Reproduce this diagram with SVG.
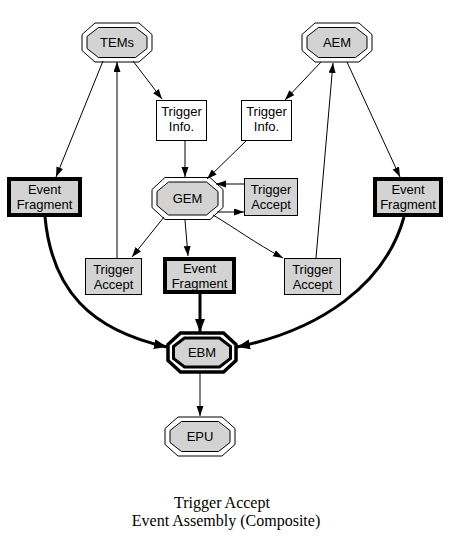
<svg xmlns="http://www.w3.org/2000/svg" width="452" height="547" viewBox="0 0 452 547">
<style>
.o{fill:none;stroke:#000;stroke-width:1}
.i{fill:#d3d3d3;stroke:#000;stroke-width:1}
.ot{fill:none;stroke:#000;stroke-width:3.5}
.it{fill:#d3d3d3;stroke:#000;stroke-width:3}
.bx{fill:#fff;stroke:#000;stroke-width:1}
.bg{fill:#d3d3d3;stroke:#000;stroke-width:1}
.bt{fill:#d3d3d3;stroke:#000;stroke-width:4}
text{font-family:"Liberation Sans",Arial,sans-serif;font-size:13px;text-anchor:middle;fill:#000}
.title{font-family:"Liberation Serif","Times New Roman",serif;font-size:16px}
.e{fill:none;stroke:#000;stroke-width:1}
.et{fill:none;stroke:#000;stroke-width:3}
</style>
<defs>
<marker id="a" markerUnits="userSpaceOnUse" markerWidth="11" markerHeight="8" refX="10" refY="3.5" orient="auto"><path d="M0,0 L10,3.5 L0,7 z" fill="#000"/></marker>
<marker id="at" markerUnits="userSpaceOnUse" markerWidth="14" markerHeight="11" refX="13" refY="5" orient="auto"><path d="M0,0 L13,5 L0,10 z" fill="#000"/></marker>
<polygon id="oo" points="-35,-8 -22,-19.5 22,-19.5 35,-8 35,8 22,19.5 -22,19.5 -35,8"/>
<polygon id="oi" points="-30,-6 -18.5,-15 18.5,-15 30,-6 30,6 18.5,15 -18.5,15 -30,6"/>
</defs>
<g id="edges">
<path class="e" d="M103,61 L56,177" marker-end="url(#a)"/>
<path class="e" d="M117,258 L117,62" marker-end="url(#a)"/>
<path class="e" d="M133,61 L162,99" marker-end="url(#a)"/>
<path class="e" d="M321,62 L285,100" marker-end="url(#a)"/>
<path class="e" d="M316,258 L333,63" marker-end="url(#a)"/>
<path class="e" d="M347,62 L400,177" marker-end="url(#a)"/>
<path class="e" d="M185,140 L185,177" marker-end="url(#a)"/>
<path class="e" d="M247,140 L207,179" marker-end="url(#a)"/>
<path class="e" d="M245,184 L216,184" marker-end="url(#a)"/>
<path class="e" d="M217,212 L244,212" marker-end="url(#a)"/>
<path class="e" d="M164,217 L132,257" marker-end="url(#a)"/>
<path class="e" d="M185,220 L188,256" marker-end="url(#a)"/>
<path class="e" d="M213,215 C235,228 255,243 283,258" marker-end="url(#a)"/>
<path class="et" d="M45,217 C52,290 90,330 167,347" marker-end="url(#at)"/>
<path class="et" d="M404,217 C385,285 320,330 237,347" marker-end="url(#at)"/>
<path class="et" d="M200,294 L200,332" marker-end="url(#at)"/>
<path class="e" d="M200,373 L200,416" marker-end="url(#a)"/>
</g>
<g id="TEMs" transform="translate(117,42.5)">
<use href="#oo" class="o"/><use href="#oi" class="i"/>
<text x="0" y="4.5">TEMs</text>
</g>
<g id="AEM" transform="translate(337,42.5)">
<use href="#oo" class="o"/><use href="#oi" class="i"/>
<text x="0" y="4.5">AEM</text>
</g>
<g id="TI1">
<rect class="bx" x="156.5" y="100.5" width="50" height="40"/>
<text x="181.5" y="116">Trigger</text><text x="181.5" y="130.5">Info.</text>
</g>
<g id="TI2">
<rect class="bx" x="241.5" y="100.5" width="50" height="40"/>
<text x="266.5" y="116">Trigger</text><text x="266.5" y="130.5">Info.</text>
</g>
<g id="GEM" transform="translate(187.5,198.5)">
<polygon class="o" points="-35.5,-9 -22.5,-21 22.5,-21 35.5,-9 35.5,9 22.5,21 -22.5,21 -35.5,9"/>
<polygon class="i" points="-30.5,-7 -19,-16.5 19,-16.5 30.5,-7 30.5,7 19,16.5 -19,16.5 -30.5,7"/>
<text x="0" y="4.5">GEM</text>
</g>
<g id="TA0">
<rect class="bg" x="244.5" y="178.5" width="53" height="37"/>
<text x="271" y="193.5">Trigger</text><text x="271" y="208.5">Accept</text>
</g>
<g id="EF1">
<rect class="bt" x="9" y="179" width="71" height="36"/>
<text x="44.5" y="194">Event</text><text x="44.5" y="209">Fragment</text>
</g>
<g id="EF2">
<rect class="bt" x="375" y="179" width="66" height="36"/>
<text x="408" y="194">Event</text><text x="408" y="209">Fragment</text>
</g>
<g id="TA1">
<rect class="bg" x="85.5" y="258.5" width="56" height="36"/>
<text x="113.5" y="273.5">Trigger</text><text x="113.5" y="288.5">Accept</text>
</g>
<g id="EF3">
<rect class="bt" x="165" y="259" width="69" height="33"/>
<text x="199.5" y="273">Event</text><text x="199.5" y="288">Fragment</text>
</g>
<g id="TA2">
<rect class="bg" x="284.5" y="258.5" width="56" height="36"/>
<text x="312.5" y="273.5">Trigger</text><text x="312.5" y="288.5">Accept</text>
</g>
<g id="EBM" transform="translate(202,352.5)">
<polygon class="ot" points="-34,-8 -21.5,-19.5 21.5,-19.5 34,-8 34,8 21.5,19.5 -21.5,19.5 -34,8"/>
<polygon class="it" points="-28.5,-6 -17.5,-14.5 17.5,-14.5 28.5,-6 28.5,6 17.5,14.5 -17.5,14.5 -28.5,6"/>
<text x="0" y="4.5">EBM</text>
</g>
<g id="EPU" transform="translate(200,436.5)">
<use href="#oo" class="o"/><use href="#oi" class="i"/>
<text x="0" y="4.5">EPU</text>
</g>
<text class="title" x="222" y="508">Trigger Accept</text>
<text class="title" x="226" y="526">Event Assembly (Composite)</text>
</svg>
